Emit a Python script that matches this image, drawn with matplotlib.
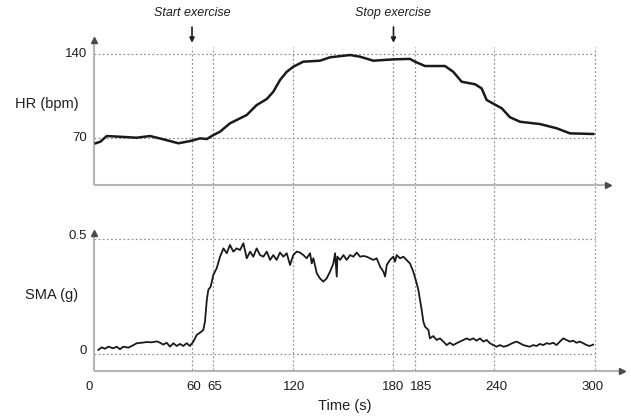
import matplotlib
matplotlib.use("Agg")
import matplotlib.pyplot as plt

plt.rcParams['font.family'] = ['Liberation Sans', 'DejaVu Sans']

# ---------------- data ----------------
hr_t = [2.6, 5.4, 9.2, 17.1, 27.0, 35.0, 42.9, 51.9, 59.8, 64.8, 68.8, 72.7, 76.7,
        82.6, 92.6, 98.5, 104.5, 108.4, 112.4, 116.4, 120.3, 126.3, 136.2, 142.2,
        154.1, 160.1, 168.0, 179.9, 189.8, 192.8, 198.8, 210.7, 215.6, 220.6,
        228.6, 232.5, 235.5, 244.5, 249.4, 255.4, 267.3, 277.2, 285.1, 299.0]
hr_v = [65.9, 67.2, 71.9, 71.3, 70.5, 71.9, 69.2, 65.9, 68.0, 70.0, 69.4, 72.7, 75.5,
        82.4, 89.3, 97.5, 102.5, 108.5, 118.2, 125.0, 129.2, 133.4, 134.2, 137.0,
        138.9, 137.5, 134.2, 135.3, 135.7, 133.4, 129.8, 129.8, 125.0, 116.8,
        114.7, 111.3, 101.7, 94.8, 87.4, 83.7, 81.8, 78.3, 74.1, 73.6]

sma_t = [4.2, 6.2, 8.2, 10.2, 13.1, 15.1, 17.1, 19.1, 22.1, 24.1, 27.1, 30.0, 33.0,
         36.0, 39.0, 41.0, 42.9, 44.9, 46.9, 48.9, 50.9, 52.9, 54.8, 56.8, 58.8,
         60.8, 62.8, 64.8, 66.7, 67.7, 68.8, 69.7, 71.1, 72.7, 74.7, 76.7, 78.7,
         80.7, 82.6, 84.6, 86.6, 88.6, 90.6, 92.6, 94.6, 96.5, 98.5, 100.5, 102.5,
         104.5, 106.5, 108.4, 110.4, 112.4, 114.4, 116.4, 118.4, 120.3, 122.3,
         124.3, 126.3, 128.3, 130.3, 131.3, 132.3, 134.3, 136.2, 138.2, 140.2,
         142.2, 144.2, 145.2, 146.2, 146.6, 148.2, 150.2, 152.1, 154.1, 156.1,
         158.1, 160.1, 162.1, 164.0, 166.0, 168.0, 170.0, 172.0, 174.0, 175.0,
         176.0, 177.9, 179.9, 180.9, 181.9, 183.9, 185.9, 187.8, 189.8, 191.8,
         193.8, 194.8, 195.8, 196.8, 197.8, 198.8, 200.8, 201.7, 203.7, 205.7,
         207.7, 209.7, 211.7, 213.6, 215.6, 217.6, 219.6, 221.6, 223.6, 225.5,
         227.5, 229.5, 231.5, 233.5, 235.5, 237.4, 239.4, 241.4, 243.4, 245.4,
         247.4, 249.3, 251.3, 253.3, 255.3, 257.3, 259.3, 261.2, 263.2, 265.2,
         267.2, 269.2, 271.2, 273.1, 275.1, 277.1, 279.1, 281.1, 283.1, 285.0,
         287.0, 289.0, 291.0, 293.0, 295.0, 296.9, 298.9]
sma_v = [0.019, 0.030, 0.024, 0.033, 0.026, 0.033, 0.022, 0.033, 0.029, 0.036, 0.048,
         0.050, 0.053, 0.052, 0.056, 0.050, 0.042, 0.050, 0.033, 0.048, 0.036, 0.045,
         0.036, 0.048, 0.036,
         0.055, 0.084, 0.094, 0.105, 0.141, 0.235, 0.279, 0.293, 0.344, 0.373, 0.423,
         0.459, 0.438, 0.474, 0.445, 0.459, 0.452, 0.481, 0.416, 0.445, 0.423, 0.459,
         0.430, 0.423, 0.445, 0.409, 0.430, 0.409, 0.441, 0.423, 0.438, 0.387, 0.430,
         0.445, 0.441, 0.430, 0.416, 0.438, 0.394, 0.416, 0.351, 0.329, 0.315, 0.329,
         0.358, 0.394, 0.438, 0.337, 0.423, 0.409, 0.430, 0.409, 0.430, 0.423, 0.441,
         0.423, 0.426, 0.423, 0.416, 0.409, 0.416, 0.380, 0.358, 0.337, 0.387, 0.409,
         0.423, 0.402, 0.430, 0.416, 0.423, 0.409, 0.394, 0.358, 0.308, 0.279, 0.235,
         0.192, 0.141, 0.120, 0.105, 0.069, 0.079, 0.062, 0.069, 0.055, 0.040, 0.050,
         0.040, 0.048, 0.055, 0.062, 0.069, 0.062, 0.069, 0.059, 0.069, 0.055, 0.062,
         0.048, 0.040, 0.033, 0.040, 0.033, 0.036, 0.043, 0.050, 0.055, 0.048, 0.040,
         0.036, 0.033, 0.040, 0.036, 0.045, 0.040, 0.048, 0.045, 0.050, 0.040, 0.055,
         0.069, 0.062, 0.055, 0.059, 0.050, 0.055, 0.048, 0.040, 0.036, 0.042]

# gridline marks (drawn positions) and their labels
grid_x = [60, 72.7, 120, 180, 192.8, 240, 300]
xtick_labels = ['0', '60', '65', '120', '180', '185', '240', '300']
xtick_pos = [-1.3, 61.2, 73.7, 120.5, 179.7, 196.4, 241.0, 298.8]
hr_ticks = [140, 70]
hr_tick_labels = ['140', '70']
sma_ticks = [0.5, 0]
sma_tick_labels = ['0.5', '0']
events = [(60, 'Start exercise'), (180, 'Stop exercise')]

# ---------------- layout ----------------
W, H = 631, 417
fig = plt.figure(figsize=(W / 100, H / 100), dpi=100)

X0, X1 = 1.8, 316.1          # data limits of both panels
top_x_end = 307.8            # end of top time axis arrow
left = 94.3 / W
width = (622 - 94.3) / W

ax1 = fig.add_axes([left, 1 - 185 / H, width, (185 - 39.3) / H])
ax2 = fig.add_axes([left, 1 - 370.7 / H, width, (370.7 - 232) / H])
ax1.set_xlim(X0, X1); ax2.set_xlim(X0, X1)
ax1.set_ylim(31.4, 151.9)
ax2.set_ylim(-0.0711, 0.530)
for ax in (ax1, ax2):
    ax.set_axis_off()
    ax.patch.set_visible(False)
ax1.set_zorder(3)

grid_kw = dict(color='#8f8f8f', lw=0.85, linestyle=(0, (1.5, 2.0)), clip_on=False)
axis_kw = dict(color='#b5b5b5', lw=1.5, solid_capstyle='butt', clip_on=False)
head_kw = dict(color='#4a4a4a', markersize=4.2, clip_on=False, linestyle='none')

# horizontal grid lines
for v in hr_ticks:
    ax1.plot([X0, 300], [v, v], **grid_kw)
for v in sma_ticks:
    ax2.plot([X0, 300], [v, v], **grid_kw)
# vertical grid lines spanning both panels (drawn in lower panel coordinates)
for gx in grid_x:
    ax2.plot([gx, gx], [-0.068, 1.332], **grid_kw)

# axis lines with arrowheads
ax1.plot([X0, X0], [31.4, 151.0], **axis_kw)
ax1.plot([X0, top_x_end - 1.5], [31.4, 31.4], **axis_kw)
ax1.plot([X0], [151.2], marker='^', **head_kw)
ax1.plot([top_x_end], [31.4], marker='>', **head_kw)
ax2.plot([X0, X0], [-0.0711, 0.524], **axis_kw)
ax2.plot([X0, X1 - 1.5], [-0.0711, -0.0711], **axis_kw)
ax2.plot([X0], [0.526], marker='^', **head_kw)
ax2.plot([X1], [-0.0711], marker='>', **head_kw)

# data lines
ax1.plot(hr_t, hr_v, color='#1a1a1a', lw=1.8, zorder=5, solid_joinstyle='round')
ax2.plot(sma_t, sma_v, color='#1a1a1a', lw=1.3, zorder=5, solid_joinstyle='round')

# tick labels
tfs = 9.5
for v, lab in zip(hr_ticks, hr_tick_labels):
    ax1.annotate(lab, xy=(0, v), xycoords=('axes fraction', 'data'),
                 xytext=(-7, 0), textcoords='offset pixels',
                 ha='right', va='center', fontsize=tfs, color='#1e1e1e')
for v, lab in zip(sma_ticks, sma_tick_labels):
    ax2.annotate(lab, xy=(0, v), xycoords=('axes fraction', 'data'),
                 xytext=(-7, 3), textcoords='offset pixels',
                 ha='right', va='center', fontsize=tfs, color='#1e1e1e')
for p, lab in zip(xtick_pos, xtick_labels):
    ax2.annotate(lab, xy=(p, 0), xycoords=('data', 'axes fraction'),
                 xytext=(0, -10), textcoords='offset pixels',
                 ha='center', va='top', fontsize=tfs, color='#1e1e1e')

# axis labels
fig.text(47 / W, 1 - 104 / H, 'HR (bpm)', ha='center', va='center', fontsize=10.5, color='#1e1e1e')
fig.text(51.5 / W, 1 - 295 / H, 'SMA (g)', ha='center', va='center', fontsize=10.5, color='#1e1e1e')
fig.text(344.5 / W, 1 - 406 / H, 'Time (s)', ha='center', va='center', fontsize=10.5, color='#1e1e1e')

# event annotations
for ex, lab in events:
    ax1.annotate(lab, xy=(ex, 149.0), xycoords='data',
                 xytext=(ex, 173.9), textcoords='data',
                 ha='center', va='center', fontsize=9, style='italic', color='#1e1e1e',
                 annotation_clip=False,
                 arrowprops=dict(arrowstyle='-|>', color='#1e1e1e', lw=1.2,
                                 mutation_scale=7, shrinkA=4, shrinkB=0))

fig.savefig('out.png', dpi=100, facecolor='white')
